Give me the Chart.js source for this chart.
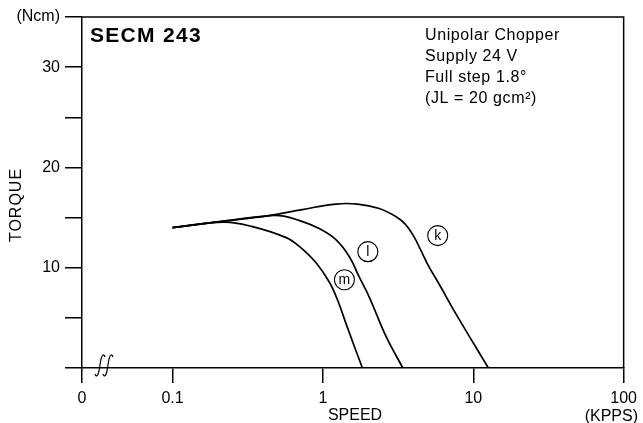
<!DOCTYPE html>
<html>
<head>
<meta charset="utf-8">
<script src="https://cdn.jsdelivr.net/npm/chart.js@4"></script>
<style>
  html, body { margin: 0; padding: 0; background: #fff; }
  #wrap { width: 643px; height: 423px; }
</style>
</head>
<body>
<div id="wrap"><canvas id="myChart"></canvas></div>
<script>
// speed (kpps) / torque (Ncm)
var speedK = [0.1, 0.206, 0.44, 0.73, 1.22, 1.7, 2.37, 3.05, 3.55, 4.03, 4.46, 5.07, 5.91, 7.6, 12.6];
var torqueK = [14, 14.6, 15.2, 15.8, 16.35, 16.35, 15.9, 15.1, 14.3, 13.1, 11.8, 10.1, 8.4, 5.5, 0];
var speedL = [0.1, 0.206, 0.44, 0.55, 0.7, 0.946, 1.22, 1.5, 1.74, 2.03, 2.62, 3.4];
var torqueL = [14, 14.6, 15.2, 15.15, 14.7, 13.9, 12.8, 11.1, 9.1, 7.1, 3.2, 0];
var speedM = [0.1, 0.22, 0.34, 0.57, 0.7, 0.9, 1.1, 1.25, 1.45, 1.83];
var torqueM = [14, 14.55, 14.1, 13.0, 12.1, 10.5, 8.6, 6.8, 4.1, 0];

var curveNames = ["k", "l", "m"];
var labelSpeed = [5.8, 1.99, 1.39];
var labelTorque = [13.2, 11.6, 8.8];

var xTickValues = [0.025, 0.1, 1, 10, 100];
var xTickLabels = ["0", "0.1", "1", "10", "100"];
var yTickLabels = { 10: "10", 20: "20", 30: "30", 35: "(Ncm)" };

var infoLines = ["Unipolar Chopper", "Supply 24 V", "Full step 1.8\u00b0", "(JL = 20 gcm\u00b2)"];

function pts(xs, ys) {
  return xs.map(function (x, i) { return { x: x, y: ys[i] }; });
}

var FONT = "'Liberation Sans', Arial, sans-serif";

function integral(ctx, x, y) {
  ctx.beginPath();
  ctx.moveTo(x - 5, y + 7);
  ctx.quadraticCurveTo(x - 3, y + 12, x - 1, y + 4);
  ctx.lineTo(x + 1, y - 8);
  ctx.quadraticCurveTo(x + 3, y - 15, x + 5, y - 10);
  ctx.stroke();
}

var extras = {
  id: "extras",
  afterDraw: function (chart) {
    var ctx = chart.ctx;
    var a = chart.chartArea;
    var xs = chart.scales.x, ys = chart.scales.y;
    ctx.save();
    ctx.strokeStyle = "#000";
    ctx.fillStyle = "#000";
    ctx.lineWidth = 1.5;
    // top and right frame
    ctx.beginPath();
    ctx.moveTo(a.left, a.top);
    ctx.lineTo(a.right, a.top);
    ctx.lineTo(a.right, a.bottom);
    ctx.stroke();

    // axis break mark
    ctx.lineWidth = 1.2;
    integral(ctx, 100, a.bottom - 1);
    integral(ctx, 108, a.bottom - 1);

    // axis titles
    ctx.font = "16px " + FONT;
    ctx.textAlign = "center";
    ctx.textBaseline = "middle";
    ctx.fillText("SPEED", 355, 416);
    ctx.textAlign = "right";
    ctx.fillText("(KPPS)", 638, 417);
    ctx.save();
    ctx.translate(17, 205);
    ctx.rotate(-Math.PI / 2);
    ctx.textAlign = "center";
    ctx.letterSpacing = "1px";
    ctx.fillText("TORQUE", 0, 0);
    ctx.restore();

    // title
    ctx.textAlign = "left";
    ctx.textBaseline = "alphabetic";
    ctx.font = "bold 21px " + FONT;
    ctx.letterSpacing = "1.3px";
    ctx.fillText("SECM 243", 90, 42);

    ctx.font = "16px " + FONT;
    ctx.letterSpacing = "0.6px";
    infoLines.forEach(function (t, i) {
      ctx.fillText(t, 425, 39.5 + i * 21.2);
    });
    ctx.letterSpacing = "0px";

    // curve labels in circles
    ctx.textAlign = "center";
    ctx.textBaseline = "middle";
    ctx.font = "14px " + FONT;
    ctx.lineWidth = 1.1;
    curveNames.forEach(function (n, i) {
      var px = xs.getPixelForValue(labelSpeed[i]);
      var py = ys.getPixelForValue(labelTorque[i]);
      ctx.beginPath();
      ctx.arc(px, py, 10, 0, Math.PI * 2);
      ctx.stroke();
      ctx.fillText(n, px, py + 0.5);
    });
    ctx.restore();
  }
};

function ds(data) {
  return {
    data: data,
    borderColor: "#000",
    borderWidth: 1.7,
    pointRadius: 0,
    fill: false,
    tension: 0.4
  };
}

new Chart("myChart", {
  type: "line",
  data: {
    datasets: [ds(pts(speedK, torqueK)), ds(pts(speedL, torqueL)), ds(pts(speedM, torqueM))]
  },
  plugins: [extras],
  options: {
    responsive: true,
    maintainAspectRatio: false,
    animation: false,
    layout: { padding: { top: 17, right: 18, left: 0, bottom: 0 } },
    plugins: { legend: { display: false }, tooltip: { enabled: false } },
    scales: {
      x: {
        type: "logarithmic",
        min: 0.025,
        max: 100,
        afterBuildTicks: function (scale) {
          scale.ticks = xTickValues.map(function (v) { return { value: v }; });
        },
        afterFit: function (scale) { scale.height = 55; },
        ticks: {
          color: "#000",
          font: { family: FONT, size: 16 },
          padding: 6,
          maxRotation: 0,
          autoSkip: false,
          callback: function (value) {
            var i = xTickValues.indexOf(value);
            return i >= 0 ? xTickLabels[i] : "";
          }
        },
        grid: { drawOnChartArea: false, drawTicks: true, tickLength: 15, color: "#000", lineWidth: 1.5 },
        border: { display: true, color: "#000", width: 1.5 }
      },
      y: {
        min: 0,
        max: 35,
        afterFit: function (scale) { scale.width = 82; },
        ticks: {
          stepSize: 5,
          color: "#000",
          font: { family: FONT, size: 16 },
          padding: 5,
          autoSkip: false,
          callback: function (value) { return yTickLabels[value] || ""; }
        },
        grid: { drawOnChartArea: false, drawTicks: true, tickLength: 17, color: "#000", lineWidth: 1.5 },
        border: { display: true, color: "#000", width: 1.5 }
      }
    }
  }
});
</script>
</body>
</html>
